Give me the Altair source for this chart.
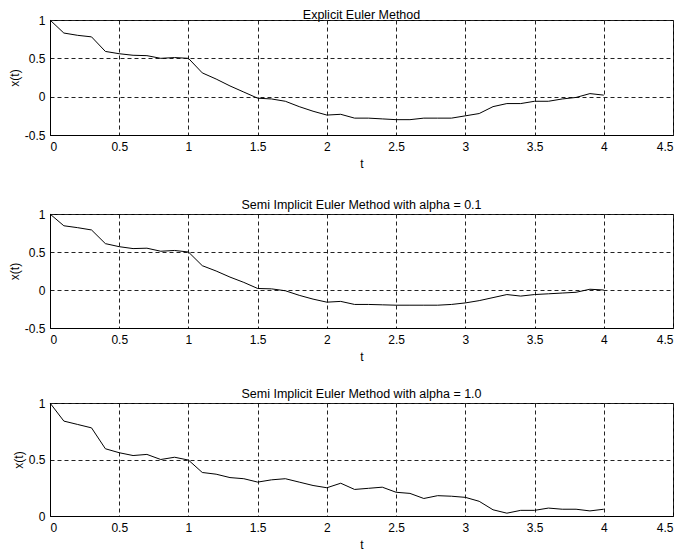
import altair as alt
import pandas as pd

t = [0.0, 0.1, 0.2, 0.3, 0.4, 0.5, 0.6, 0.7, 0.8, 0.9,
     1.0, 1.1, 1.2, 1.3, 1.4, 1.5, 1.6, 1.7, 1.8, 1.9,
     2.0, 2.1, 2.2, 2.3, 2.4, 2.5, 2.6, 2.7, 2.8, 2.9,
     3.0, 3.1, 3.2, 3.3, 3.4, 3.5, 3.6, 3.7, 3.8, 3.9, 4.0]

explicit = [1.0, 0.83, 0.80, 0.78, 0.59, 0.56, 0.54, 0.535, 0.50, 0.51,
            0.50, 0.31, 0.23, 0.14, 0.06, -0.02, -0.03, -0.06, -0.13, -0.19,
            -0.24, -0.23, -0.28, -0.28, -0.29, -0.30, -0.30, -0.28, -0.28, -0.28,
            -0.25, -0.22, -0.13, -0.09, -0.09, -0.06, -0.06, -0.03, -0.01, 0.04, 0.02]

semi_01 = [1.0, 0.845, 0.82, 0.79, 0.61, 0.57, 0.545, 0.55, 0.51, 0.52,
           0.50, 0.32, 0.25, 0.17, 0.10, 0.02, 0.015, -0.01, -0.07, -0.12,
           -0.16, -0.15, -0.19, -0.19, -0.195, -0.20, -0.20, -0.20, -0.20, -0.19,
           -0.17, -0.14, -0.10, -0.06, -0.08, -0.06, -0.05, -0.04, -0.03, 0.01, 0.0]

semi_10 = [1.0, 0.84, 0.81, 0.78, 0.595, 0.56, 0.535, 0.545, 0.50, 0.52,
           0.495, 0.385, 0.37, 0.34, 0.33, 0.30, 0.32, 0.33, 0.30, 0.27,
           0.25, 0.29, 0.235, 0.245, 0.255, 0.21, 0.20, 0.155, 0.18, 0.175,
           0.165, 0.13, 0.055, 0.025, 0.05, 0.05, 0.07, 0.06, 0.06, 0.045, 0.06]

titles = ["Explicit Euler Method",
          "Semi Implicit Euler Method with alpha = 0.1",
          "Semi Implicit Euler Method with alpha = 1.0"]

x_ticks = [0, 0.5, 1, 1.5, 2, 2.5, 3, 3.5, 4, 4.5]
y_ticks_a = [-0.5, 0, 0.5, 1]
y_ticks_b = [0, 0.5, 1]

FONT = "Liberation Sans"


def panel(values, title, ydom, yticks, h, toff):
    df = pd.DataFrame({"t": t, "x": values})
    return (
        alt.Chart(df)
        .mark_line(color="black", strokeWidth=1)
        .encode(
            x=alt.X("t:Q", title="t",
                    scale=alt.Scale(domain=[0, 4.5], nice=False, zero=False),
                    axis=alt.Axis(values=x_ticks, labelExpr="'' + datum.value",
                                  labelPadding=6, titlePadding=6)),
            y=alt.Y("x:Q", title="x(t)",
                    scale=alt.Scale(domain=ydom, nice=False, zero=False),
                    axis=alt.Axis(values=yticks, labelExpr="'' + datum.value",
                                  labelPadding=5, titlePadding=3)),
        )
        .properties(width=623, height=h,
                    title=alt.TitleParams(title, offset=toff, frame="group"))
    )


p1 = panel(explicit, titles[0], [-0.5, 1], y_ticks_a, 115, -7)
p2 = panel(semi_01, titles[1], [-0.5, 1], y_ticks_a, 114, -3)
p3 = panel(semi_10, titles[2], [0, 1], y_ticks_b, 113, -3)

lower = alt.vconcat(p2, p3, spacing=75, bounds="flush")
chart = (
    alt.vconcat(p1, lower, spacing=79, bounds="flush")
    .properties(padding={"left": -1, "top": 0, "right": 0, "bottom": 0},
                background="white")
    .configure_view(stroke="black", strokeWidth=1)
    .configure_axis(
        labelFont=FONT, labelFontSize=12, labelColor="black",
        titleFont=FONT, titleFontSize=12, titleColor="black", titleFontWeight="normal",
        domainColor="black", domainWidth=1,
        ticks=True, tickSize=0,
        grid=True, gridColor="#222222", gridDash=[4, 3], gridOpacity=1, gridWidth=1,
    )
    .configure_title(font=FONT, fontSize=12.5, fontWeight="normal", color="black",
                     anchor="middle")
)

chart.save("out.html", embed_options={"renderer": "svg", "actions": False})
